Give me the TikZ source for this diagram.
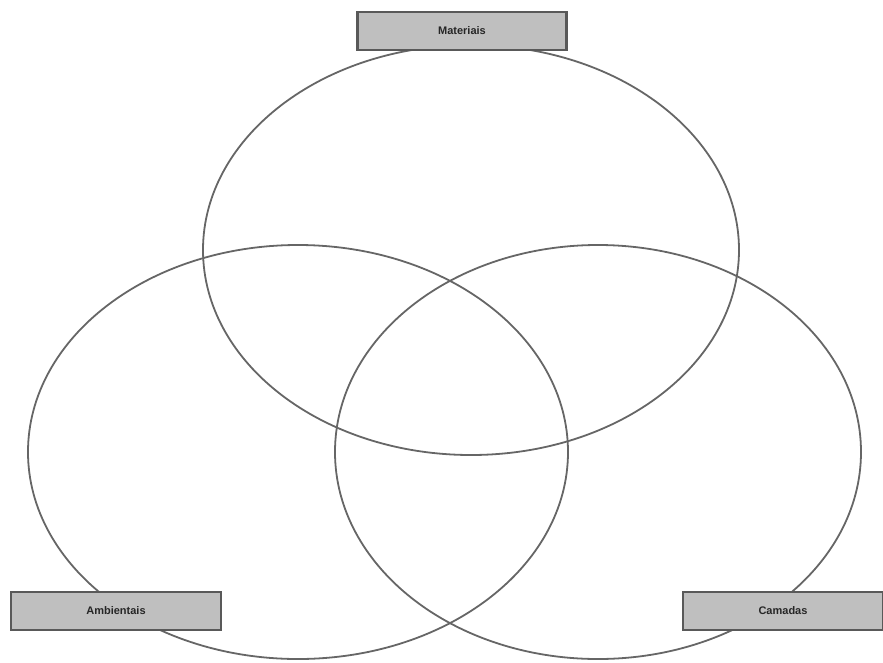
\documentclass[tikz,border=0pt]{standalone}
\usepackage{fontspec}
\setmainfont{Liberation Sans}
\begin{document}
\begin{tikzpicture}[x=1pt,y=-1pt,
  ring/.style={draw=black!60, line width=1.8pt},
  labelbox/.style={draw=black!65, fill=black!25, line width=2.5pt, minimum height=38pt, font=\bfseries\fontsize{11}{12}\selectfont, text=black!85, inner sep=0pt}]
\useasboundingbox (0,0) rectangle (883,662);
\draw[ring] (471,250) ellipse [x radius=268, y radius=205];
\draw[ring] (298,452) ellipse [x radius=270, y radius=207];
\draw[ring] (598,452) ellipse [x radius=263, y radius=207];
\node[labelbox, minimum width=209pt] (top) at (462,31) {Materiais};
\node[labelbox, minimum width=210pt] (left) at (116,611) {Ambientais};
\node[labelbox, minimum width=200pt] (right) at (783,611) {Camadas};
\end{tikzpicture}
\end{document}
